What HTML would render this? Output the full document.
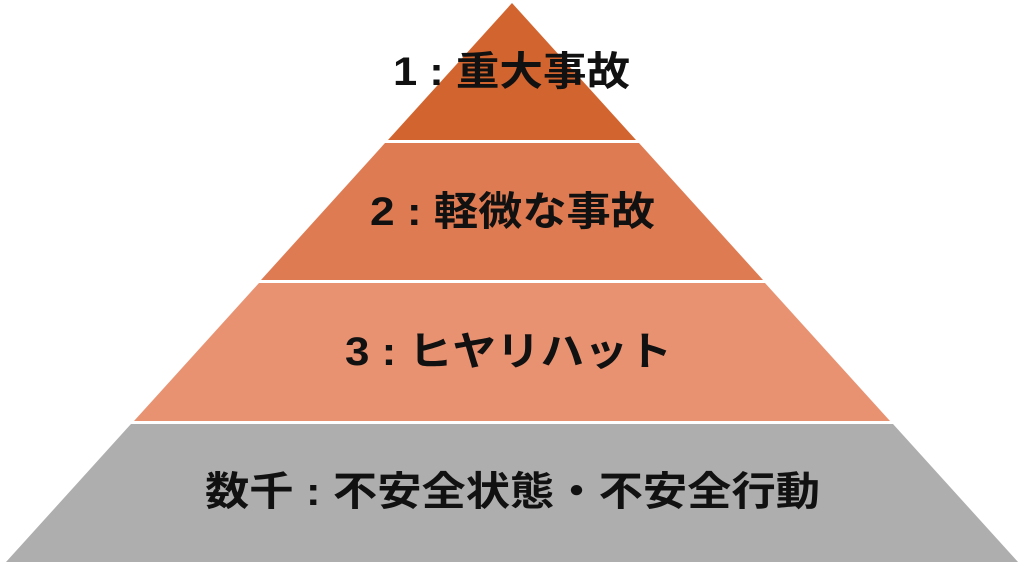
<!DOCTYPE html>
<html><head><meta charset="utf-8"><style>html,body{margin:0;padding:0;background:#fff;}svg{display:block}</style></head>
<body>
<svg width="1024" height="565" viewBox="0 0 1024 565" xmlns="http://www.w3.org/2000/svg">
<polygon points="512,3 636,140 388,140" fill="#D2652F"/>
<polygon points="385,143 639,143 763,280 261,280" fill="#DF7B52"/>
<polygon points="259,283 765,283 890,421 134,421" fill="#E89272"/>
<polygon points="131,424 893,424 1018,562 6,562" fill="#AEAEAE"/>
<g font-family="'Liberation Sans','Noto Sans CJK JP',sans-serif" font-weight="bold" font-size="40" fill="#111">
<text x="393" y="85" textLength="237" lengthAdjust="spacingAndGlyphs">1 : 重大事故</text>
<text x="370" y="225" textLength="285" lengthAdjust="spacingAndGlyphs">2 : 軽微な事故</text>
<text x="345" y="365" textLength="327" lengthAdjust="spacingAndGlyphs">3 : ヒヤリハット</text>
<text x="205" y="505" textLength="615" lengthAdjust="spacingAndGlyphs">数千 : 不安全状態・不安全行動</text>
</g>
</svg>
</body></html>
